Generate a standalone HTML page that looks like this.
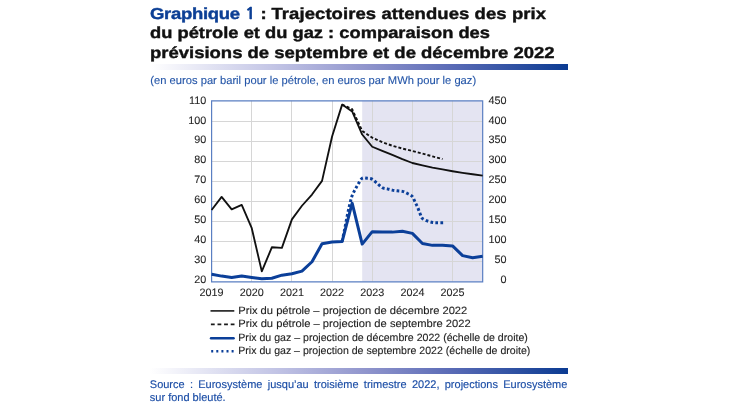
<!DOCTYPE html>
<html><head><meta charset="utf-8"><style>
html,body{margin:0;padding:0;background:#fff;}
body{width:730px;height:410px;position:relative;overflow:hidden;text-rendering:geometricPrecision;font-family:"Liberation Sans",Arial,sans-serif;}
.t{position:absolute;left:150.4px;font-weight:bold;font-size:15.9px;color:#111;white-space:nowrap;line-height:19px;-webkit-text-stroke:0.4px currentColor;transform-origin:0 0;text-rendering:geometricPrecision;}
.t b{color:#0c3f95;}
.one{font-family:'NanumGothic',sans-serif;font-weight:bold;}
.bar{position:absolute;left:150px;width:418px;height:6px;background:linear-gradient(to right,#ffffff 0%,#c2c4e5 30%,#8f94cc 52%,#5a6bb6 72%,#0b3b92 100%);}
.sub{position:absolute;left:150.3px;top:73px;font-size:11.2px;line-height:16px;color:#2556a8;-webkit-text-stroke:0.12px #2556a8;white-space:nowrap;}
.src{position:absolute;left:149.8px;top:379px;width:417.6px;font-size:11px;color:#1c4ea6;-webkit-text-stroke:0.15px #1c4ea6;line-height:12.6px;}
.src div{text-align:justify;text-align-last:justify;}
#w{position:absolute;left:0;top:0;width:730px;height:410px;will-change:transform;}
</style></head><body><div id="w">
<div class="t" style="top:4.8px;transform:scaleX(1.1626415094339624)"><b style="letter-spacing:-0.25px">Graphique <span class="one">1</span></b><span style="letter-spacing:-0.25px"> :</span><span style="letter-spacing:0.07px"> Trajectoires attendues des prix</span></div>
<div class="t" style="top:24.2px;transform:scaleX(1.1528301886792454)">du pétrole et du gaz : comparaison des</div>
<div class="t" style="top:43.5px;transform:scaleX(1.1626415094339624)">prévisions de septembre et de décembre 2022</div>
<div class="bar" style="top:64px"></div>
<div class="sub">(en euros par baril pour le pétrole, en euros par MWh pour le gaz)</div>
<svg width="730" height="410" viewBox="0 0 730 410" style="position:absolute;left:0;top:0">
<rect x="362.2" y="100.8" width="120.5" height="180.6" fill="#e4e4f2"/>
<g stroke="#d6d6d6" stroke-width="1" fill="none"><line x1="211.6" y1="261.5" x2="482.7" y2="261.5"/><line x1="211.6" y1="241.5" x2="482.7" y2="241.5"/><line x1="211.6" y1="221.5" x2="482.7" y2="221.5"/><line x1="211.6" y1="201.5" x2="482.7" y2="201.5"/><line x1="211.6" y1="181.5" x2="482.7" y2="181.5"/><line x1="211.6" y1="161.5" x2="482.7" y2="161.5"/><line x1="211.6" y1="141.5" x2="482.7" y2="141.5"/><line x1="211.6" y1="121.5" x2="482.7" y2="121.5"/><line x1="251.5" y1="100.8" x2="251.5" y2="281.4"/><line x1="291.5" y1="100.8" x2="291.5" y2="281.4"/><line x1="332.5" y1="100.8" x2="332.5" y2="281.4"/><line x1="372.5" y1="100.8" x2="372.5" y2="281.4"/><line x1="412.5" y1="100.8" x2="412.5" y2="281.4"/><line x1="452.5" y1="100.8" x2="452.5" y2="281.4"/></g>
<path d="M211.6,100.8 H482.68 V281.9 H211.6 Z" fill="none" stroke="#5a7fc2" stroke-width="1.2"/>
<g fill="none" stroke-linejoin="round" stroke-linecap="butt">
<path d="M211.60,209.96 L221.64,196.92 L231.68,209.36 L241.72,204.95 L251.76,228.22 L261.80,271.37 L271.84,247.29 L281.88,247.89 L291.92,219.39 L301.96,205.75 L312.00,194.51 L322.04,180.87 L332.08,136.52 L342.12,104.61 L352.16,111.44 L362.20,134.51 L372.24,146.75 L382.28,150.97 L392.32,154.98 L402.36,159.19 L412.40,163.01 L422.44,165.41 L432.48,167.62 L442.52,169.43 L452.56,171.23 L462.60,172.84 L472.64,174.24 L482.68,175.65" stroke="#111" stroke-width="1.85"/>
<path d="M342.12,104.61 L352.16,109.23 L362.20,130.90 L372.24,137.72 L382.28,142.14 L392.32,145.75 L402.36,148.56 L412.40,150.97 L422.44,153.58 L432.48,156.38 L442.52,158.99" stroke="#111" stroke-width="1.9" stroke-dasharray="3 2"/>
<path d="M211.60,274.18 L221.64,276.10 L231.68,277.59 L241.72,275.98 L251.76,277.39 L261.80,278.79 L271.84,278.19 L281.88,275.18 L291.92,273.77 L301.96,271.17 L312.00,261.73 L322.04,243.67 L332.08,242.07 L342.12,241.51 L352.16,203.14 L362.20,244.08 L372.24,231.63 L382.28,231.92 L392.32,232.12 L402.36,231.23 L412.40,233.36 L422.44,243.47 L432.48,245.36 L442.52,245.16 L452.56,245.88 L462.60,255.63 L472.64,257.80 L482.68,256.24" stroke="#0b3f99" stroke-width="3"/>
<path d="M342.10,241.40 C342.52,239.42 343.78,233.57 344.60,229.50 C345.42,225.43 346.18,221.00 347.00,217.00 C347.82,213.00 348.67,209.00 349.50,205.50 C350.33,202.00 351.05,198.68 352.00,196.00 C352.95,193.32 354.12,191.48 355.20,189.40 C356.28,187.32 357.33,185.35 358.50,183.50 C359.67,181.65 360.78,179.18 362.20,178.30 C363.62,177.42 365.35,178.05 367.00,178.20 C368.65,178.35 370.40,178.33 372.10,179.20 C373.80,180.07 375.48,181.98 377.20,183.40 C378.92,184.82 380.72,186.78 382.40,187.70 C384.08,188.62 385.67,188.50 387.30,188.90 C388.93,189.30 390.57,189.78 392.20,190.10 C393.83,190.42 395.38,190.58 397.10,190.80 C398.82,191.02 400.77,190.95 402.50,191.40 C404.23,191.85 405.87,192.67 407.50,193.50 C409.13,194.33 411.05,195.02 412.30,196.40 C413.55,197.78 414.12,200.00 415.00,201.80 C415.88,203.60 416.78,205.30 417.60,207.20 C418.42,209.10 419.13,211.37 419.90,213.20 C420.67,215.03 420.97,216.92 422.20,218.20 C423.43,219.48 425.55,220.20 427.30,220.90 C429.05,221.60 431.02,222.10 432.70,222.40 C434.38,222.70 435.65,222.65 437.40,222.70 C439.15,222.75 442.23,222.70 443.20,222.70" stroke="#0b3f99" stroke-width="3" stroke-dasharray="2.7 2.3"/>
</g>
<g font-family="Liberation Sans, Arial, sans-serif" font-size="10.8" fill="#262626" stroke="#262626" stroke-width="0.1"><text x="206.3" y="103.70" text-anchor="end">110</text><text x="206.3" y="123.57" text-anchor="end">100</text><text x="206.3" y="143.44" text-anchor="end">90</text><text x="206.3" y="163.31" text-anchor="end">80</text><text x="206.3" y="183.18" text-anchor="end">70</text><text x="206.3" y="203.05" text-anchor="end">60</text><text x="206.3" y="222.92" text-anchor="end">50</text><text x="206.3" y="242.79" text-anchor="end">40</text><text x="206.3" y="262.66" text-anchor="end">30</text><text x="206.3" y="282.53" text-anchor="end">20</text><text x="506.4" y="103.70" text-anchor="end">450</text><text x="506.4" y="123.57" text-anchor="end">400</text><text x="506.4" y="143.44" text-anchor="end">350</text><text x="506.4" y="163.31" text-anchor="end">300</text><text x="506.4" y="183.18" text-anchor="end">250</text><text x="506.4" y="203.05" text-anchor="end">200</text><text x="506.4" y="222.92" text-anchor="end">150</text><text x="506.4" y="242.79" text-anchor="end">100</text><text x="506.4" y="262.66" text-anchor="end">50</text><text x="506.4" y="282.53" text-anchor="end">0</text><text x="211.6" y="295.8" text-anchor="middle">2019</text><text x="251.8" y="295.8" text-anchor="middle">2020</text><text x="291.9" y="295.8" text-anchor="middle">2021</text><text x="332.1" y="295.8" text-anchor="middle">2022</text><text x="372.2" y="295.8" text-anchor="middle">2023</text><text x="412.4" y="295.8" text-anchor="middle">2024</text><text x="452.6" y="295.8" text-anchor="middle">2025</text></g>
<g stroke-width="2" fill="none">
<line x1="210.5" y1="310.9" x2="234.3" y2="310.9" stroke="#1a1a1a" stroke-width="1.6"/>
<line x1="210.9" y1="324.4" x2="235" y2="324.4" stroke="#1a1a1a" stroke-width="1.6" stroke-dasharray="3.8 2.8"/>
<line x1="211" y1="338.2" x2="233.6" y2="338.2" stroke="#0b3f99" stroke-width="2.4" stroke-linecap="round"/>
<line x1="211.2" y1="351.2" x2="235" y2="351.2" stroke="#0b3f99" stroke-width="2.4" stroke-dasharray="2 3.1"/>
</g>
<g font-family="Liberation Sans, Arial, sans-serif" font-size="10.55" fill="#1e1e1e" stroke="#1e1e1e" stroke-width="0.12">
<text x="238.3" y="313.9" textLength="229" lengthAdjust="spacingAndGlyphs">Prix du pétrole – projection de décembre 2022</text>
<text x="238.3" y="327.4" textLength="232.4" lengthAdjust="spacingAndGlyphs">Prix du pétrole – projection de septembre 2022</text>
<text x="238.3" y="340.6" textLength="289.6" lengthAdjust="spacingAndGlyphs">Prix du gaz – projection de décembre 2022 (échelle de droite)</text>
<text x="238.3" y="354" textLength="292.1" lengthAdjust="spacingAndGlyphs">Prix du gaz – projection de septembre 2022 (échelle de droite)</text>
</g>
</svg>
<div class="bar" style="top:367.5px"></div>
<div class="src"><div>Source : Eurosystème jusqu’au troisième trimestre 2022, projections Eurosystème</div>sur fond bleuté.</div>
</div></body></html>
